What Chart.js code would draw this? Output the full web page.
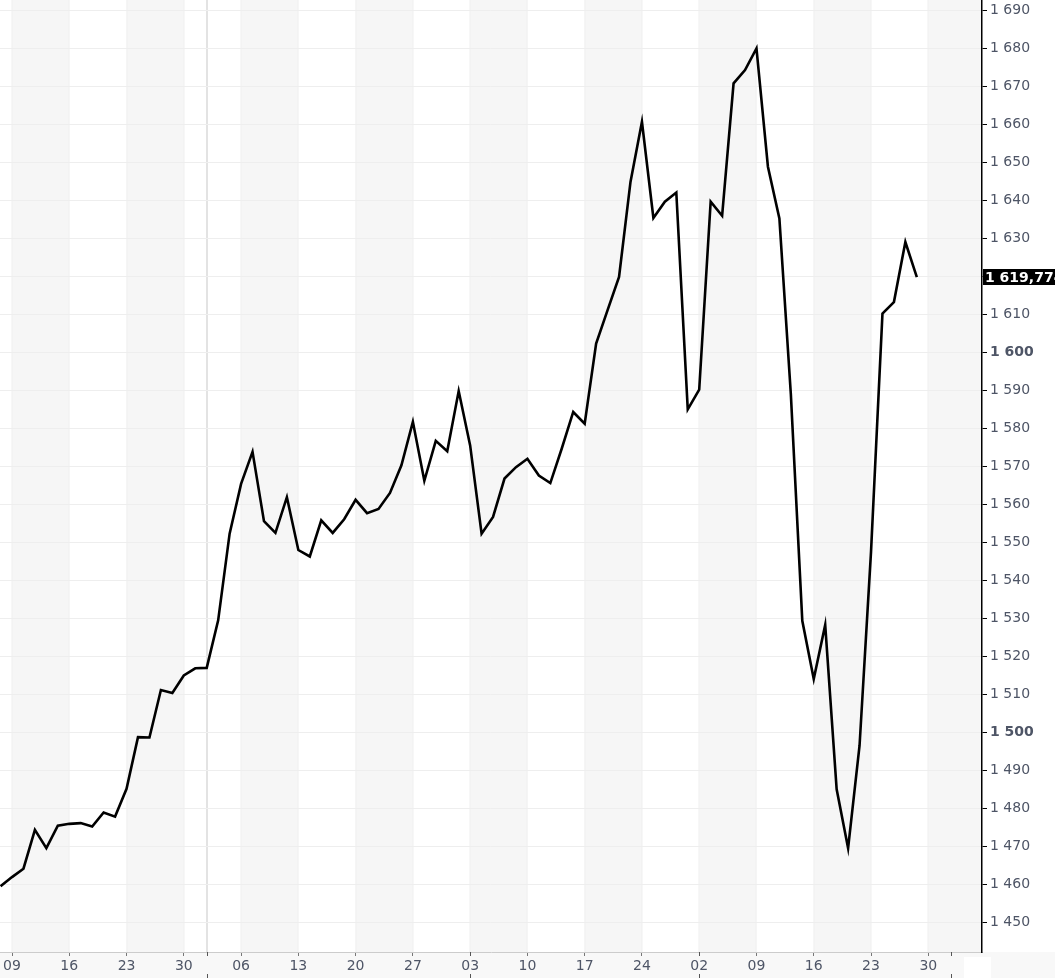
<!DOCTYPE html>
<html>
<head>
<meta charset="utf-8">
<script src="https://cdn.jsdelivr.net/npm/chart.js@4.4.1/dist/chart.umd.min.js"></script>
<style>
  html, body { margin: 0; padding: 0; background: #fff; }
  #wrap { width: 1055px; height: 978px; position: relative; }
</style>
</head>
<body>
<div id="wrap"><canvas id="chart"></canvas></div>
<script>
// trading days (weekdays) from Fri 6 Dec 2019 to Fri 27 Mar 2020
const dates = [
  '2019-12-06',
  '2019-12-09','2019-12-10','2019-12-11','2019-12-12','2019-12-13',
  '2019-12-16','2019-12-17','2019-12-18','2019-12-19','2019-12-20',
  '2019-12-23','2019-12-24','2019-12-25','2019-12-26','2019-12-27',
  '2019-12-30','2019-12-31','2020-01-01','2020-01-02','2020-01-03',
  '2020-01-06','2020-01-07','2020-01-08','2020-01-09','2020-01-10',
  '2020-01-13','2020-01-14','2020-01-15','2020-01-16','2020-01-17',
  '2020-01-20','2020-01-21','2020-01-22','2020-01-23','2020-01-24',
  '2020-01-27','2020-01-28','2020-01-29','2020-01-30','2020-01-31',
  '2020-02-03','2020-02-04','2020-02-05','2020-02-06','2020-02-07',
  '2020-02-10','2020-02-11','2020-02-12','2020-02-13','2020-02-14',
  '2020-02-17','2020-02-18','2020-02-19','2020-02-20','2020-02-21',
  '2020-02-24','2020-02-25','2020-02-26','2020-02-27','2020-02-28',
  '2020-03-02','2020-03-03','2020-03-04','2020-03-05','2020-03-06',
  '2020-03-09','2020-03-10','2020-03-11','2020-03-12','2020-03-13',
  '2020-03-16','2020-03-17','2020-03-18','2020-03-19','2020-03-20',
  '2020-03-23','2020-03-24','2020-03-25','2020-03-26','2020-03-27'
];
const prices = [
  1459.6,
  1462.0, 1464.2, 1474.4, 1469.6, 1475.5,
  1476.0, 1476.2, 1475.3, 1479.0, 1477.9,
  1485.2, 1498.8, 1498.7, 1511.2, 1510.4,
  1515.0, 1516.9, 1517.0, 1529.5, 1552.3,
  1565.4, 1573.8, 1555.6, 1552.5, 1561.9,
  1548.0, 1546.3, 1555.8, 1552.5, 1556.1,
  1561.2, 1557.7, 1558.8, 1563.0, 1570.3,
  1581.7, 1566.2, 1576.7, 1574.0, 1589.8,
  1575.5, 1552.3, 1556.7, 1566.8, 1569.8,
  1572.0, 1567.6, 1565.6, 1574.7, 1584.3,
  1581.2, 1602.3, 1611.1, 1619.8, 1644.8,
  1660.6, 1635.3, 1639.6, 1642.0, 1585.0,
  1590.2, 1639.6, 1635.9, 1670.7, 1674.2,
  1679.9, 1648.8, 1635.2, 1589.0, 1529.4,
  1514.1, 1528.3, 1485.1, 1469.6, 1496.6,
  1547.5, 1610.2, 1613.2, 1629.0, 1619.774
];
const lastLabel = '1 619,774';

// x axis: day index, 0 = Mon 9 Dec
const tickIndex  = [0, 5, 10, 15, 20, 25, 30, 35, 40, 45, 50, 55, 60, 65, 70, 75, 80];
const tickLabels = ['09','16','23','30','06','13','20','27','03','10','17','24','02','09','16','23','30'];
const monthStarts = [17, 40, 60, 82];   // 1 Jan, 3 Feb, 2 Mar, 1 Apr
const yearStart = 17;
const shadedWeeks = [0, 10, 20, 30, 40, 50, 60, 70, 80];

const yTicks = [1450, 1460, 1470, 1480, 1490, 1500, 1510, 1520, 1530, 1540, 1550, 1560,
  1570, 1580, 1590, 1600, 1610, 1620, 1630, 1640, 1650, 1660, 1670, 1680, 1690];

const xMin = -1.048, xMax = 84.69;
const yMin = 1442.3, yMax = 1692.63;

function fmt(v) {
  return String(v).replace(/\B(?=(\d{3})+(?!\d))/g, ' ');
}

const points = prices.map((p, i) => ({ x: i - 1, y: p }));

const decor = {
  id: 'decor',
  beforeDraw(chart) {
    const { ctx, chartArea: a, scales: { x } } = chart;
    ctx.save();
    ctx.fillStyle = '#f8f8f8';
    ctx.fillRect(0, a.bottom, chart.width, chart.height - a.bottom);
    shadedWeeks.forEach(s => {
      const x0 = Math.max(x.getPixelForValue(s), a.left);
      const x1 = Math.min(x.getPixelForValue(s + 5), a.right);
      if (x1 <= x0) return;
      ctx.fillStyle = '#f6f6f6';
      ctx.fillRect(x0, a.top, x1 - x0, a.bottom - a.top);
      ctx.fillStyle = '#efefef';
      ctx.fillRect(Math.round(x0) - 0.5, a.top, 1, a.bottom - a.top);
      if (x1 < a.right) ctx.fillRect(Math.round(x1) - 0.5, a.top, 1, a.bottom - a.top);
    });
    const yx = Math.round(x.getPixelForValue(yearStart));
    ctx.fillStyle = '#e3e3e3';
    ctx.fillRect(yx - 1, a.top, 2, a.bottom - a.top);
    ctx.restore();
  },
  afterDraw(chart) {
    const { ctx, chartArea: a, scales: { x, y } } = chart;
    ctx.save();
    // month separators under the axis
    ctx.strokeStyle = '#555';
    ctx.lineWidth = 1;
    ctx.setLineDash([4, 18]);
    monthStarts.forEach(m => {
      const px = Math.round(x.getPixelForValue(m)) + 0.5;
      ctx.beginPath();
      ctx.moveTo(px, a.bottom);
      ctx.lineTo(px, chart.height);
      ctx.stroke();
    });
    ctx.setLineDash([]);
    ctx.fillStyle = '#fff';
    ctx.fillRect(964, a.bottom + 5, 27, chart.height - a.bottom - 5);
    // last price marker
    const py = Math.round(y.getPixelForValue(prices[prices.length - 1]));
    ctx.fillStyle = '#000';
    ctx.fillRect(a.right + 1, py - 8, chart.width - a.right, 16);
    ctx.fillStyle = '#fff';
    ctx.font = 'bold 14px "DejaVu Sans", sans-serif';
    ctx.textBaseline = 'middle';
    ctx.textAlign = 'left';
    ctx.fillText(lastLabel, a.right + 3, py + 1);
    ctx.restore();
  }
};

Chart.defaults.font.family = '"DejaVu Sans", sans-serif';
Chart.defaults.font.size = 14;

new Chart(document.getElementById('chart'), {
  type: 'line',
  data: {
    datasets: [{
      data: points,
      borderColor: '#000',
      borderWidth: 2.6,
      pointRadius: 0,
      tension: 0,
      fill: false
    }]
  },
  options: {
    responsive: true,
    maintainAspectRatio: false,
    animation: false,
    layout: { padding: 0 },
    plugins: { legend: { display: false }, tooltip: { enabled: false } },
    scales: {
      x: {
        type: 'linear',
        min: xMin,
        max: xMax,
        afterBuildTicks: s => { s.ticks = tickIndex.map(v => ({ value: v })); },
        afterFit: s => { s.height = 26; s.paddingLeft = 0; s.paddingRight = 0; },
        grid: { drawOnChartArea: false, tickLength: 4, tickColor: '#777' },
        border: { color: '#cccccc', width: 1 },
        ticks: {
          autoSkip: false,
          maxRotation: 0,
          padding: 2,
          color: '#4e5566',
          callback: (v, i) => tickLabels[i]
        }
      },
      y: {
        type: 'linear',
        position: 'right',
        min: yMin,
        max: yMax,
        afterBuildTicks: s => { s.ticks = yTicks.map(v => ({ value: v })); },
        afterFit: s => { s.width = 73; s.paddingTop = 0; s.paddingBottom = 0; },
        grid: { color: '#eeeeee', lineWidth: 1, tickColor: '#000', tickLength: 5 },
        border: { color: '#000', width: 1.5 },
        ticks: {
          padding: 3,
          color: '#4e5566',
          font: c => ({ size: 14, weight: (c.tick && c.tick.value % 100 === 0) ? 'bold' : 'normal' }),
          callback: v => fmt(v)
        }
      }
    }
  },
  plugins: [decor]
});
</script>
</body>
</html>
